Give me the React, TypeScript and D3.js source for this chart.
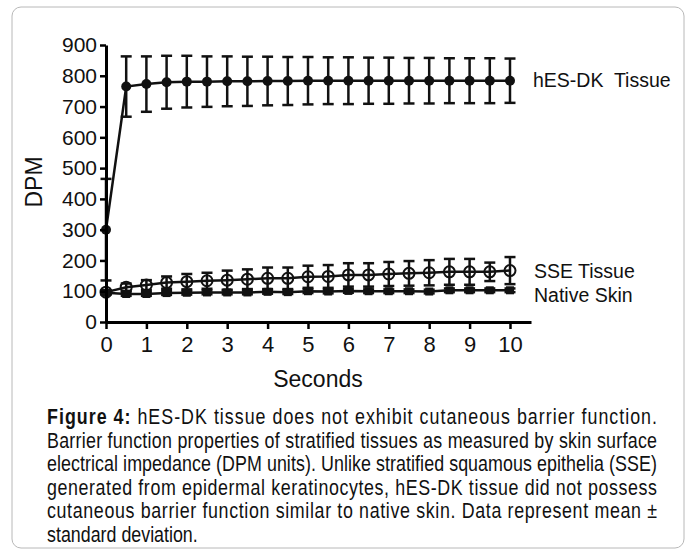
import React, {useEffect, useRef} from "react";
import * as d3 from "d3";

// time points, seconds
const seconds = [0, 0.5, 1, 1.5, 2, 2.5, 3, 3.5, 4, 4.5, 5, 5.5, 6, 6.5, 7, 7.5, 8, 8.5, 9, 9.5, 10];

const hesMean = [300, 765, 773, 779, 781, 781, 782, 782, 783, 783, 784, 784, 784, 784, 784, 784, 784, 784, 784, 784, 784];
const hesSd = [165, 98, 90, 86, 84, 82, 81, 80, 79, 78, 77, 76, 76, 75, 75, 74, 74, 73, 73, 73, 72];

const sseMean = [97, 113, 120, 128, 131, 134, 136, 139, 142, 142, 147, 148, 153, 153, 156, 158, 160, 163, 163, 163, 167];
const sseSd = [4, 12, 16, 20, 25, 26, 31, 32, 35, 35, 36, 37, 38, 38, 39, 40, 41, 42, 42, 30, 44];

const nativeMean = [95, 91, 91, 94, 95, 96, 96, 96, 98, 97, 100, 99, 101, 100, 100, 100, 99, 103, 103, 103, 103];
const nativeSd = [6, 6, 6, 6, 6, 6, 6, 6, 6, 6, 6, 6, 6, 6, 6, 6, 6, 6, 6, 6, 6];

const xTicks = [0, 1, 2, 3, 4, 5, 6, 7, 8, 9, 10];
const yTicks = [0, 100, 200, 300, 400, 500, 600, 700, 800, 900];

const captionLines = [
    "hES-DK tissue does not exhibit cutaneous barrier function.",
    "Barrier function properties of stratified tissues as measured by skin surface",
    "electrical impedance (DPM units). Unlike stratified squamous epithelia (SSE)",
    "generated from epidermal keratinocytes, hES-DK tissue did not possess",
    "cutaneous barrier function similar to native skin. Data represent mean ±",
    "standard deviation."
];

const FONT = "'Liberation Sans', Arial, Helvetica, sans-serif";
// no narrow face installed, so squeeze the regular one
const NARROW_SCALE = 0.83;

const x = d3.scaleLinear().domain([0, 10.52]).range([106, 531]);
const y = d3.scaleLinear().domain([0, 900]).range([322, 45]);

const App = () => {
    const xAxisRef = useRef<SVGGElement>(null);
    const yAxisRef = useRef<SVGGElement>(null);

    useEffect(() => {
        const xg = d3.select(xAxisRef.current);
        xg.call(d3.axisBottom(x).tickValues(xTicks).tickSize(7).tickSizeOuter(0).tickPadding(7).tickFormat(d3.format("d")) as any);
        xg.select(".domain").attr("stroke-width", 3);
        xg.selectAll(".tick line").attr("stroke-width", 2.5);
        xg.selectAll(".tick text").attr("font-size", 22).attr("font-family", FONT).attr("fill", "#111");

        const yg = d3.select(yAxisRef.current);
        yg.call(d3.axisLeft(y).tickValues(yTicks).tickSize(6).tickSizeOuter(0).tickPadding(3).tickFormat(d3.format("d")) as any);
        yg.select(".domain").attr("stroke-width", 3);
        yg.selectAll(".tick line").attr("stroke-width", 2.5);
        yg.selectAll(".tick text").attr("font-size", 21).attr("font-family", FONT).attr("fill", "#111");
    });

    const line = (vals: number[]) =>
        d3.line<number>().x((_, i) => x(seconds[i])).y(d => y(d))(vals) || "";

    const errorBars = (mean: number[], sd: number[], key: string) =>
        mean.map((m, i) => {
            const cx = x(seconds[i]);
            const top = y(m + sd[i]);
            const bot = y(m - sd[i]);
            return (
                <g key={key + i} stroke="#111" strokeWidth={2.5}>
                    <line x1={cx} x2={cx} y1={top} y2={bot}/>
                    <line x1={cx - 5.5} x2={cx + 5.5} y1={top} y2={top}/>
                    <line x1={cx - 5.5} x2={cx + 5.5} y1={bot} y2={bot}/>
                </g>
            );
        });

    return (
        <svg width={694} height={552} style={{position: "absolute", left: 0, top: 0}}>
            <rect x={0} y={0} width={694} height={552} fill="#fff"/>
            <rect x={12} y={7} width={672} height={541} rx={9} fill="none" stroke="#b8b8b8" strokeWidth={1}/>

            {errorBars(nativeMean, nativeSd, "n")}
            {errorBars(sseMean, sseSd, "s")}
            {errorBars(hesMean, hesSd, "h")}

            <path d={line(nativeMean)} fill="none" stroke="#111" strokeWidth={2.5}/>
            <path d={line(sseMean)} fill="none" stroke="#111" strokeWidth={2.5}/>
            <path d={line(hesMean)} fill="none" stroke="#111" strokeWidth={2.5}/>

            {nativeMean.map((m, i) => (
                <rect key={"nm" + i} x={x(seconds[i]) - 4} y={y(m) - 4} width={8} height={8} fill="#111"/>
            ))}
            {sseMean.map((m, i) => (
                <circle key={"sm" + i} cx={x(seconds[i])} cy={y(m)} r={5.5} fill="none" stroke="#111" strokeWidth={2}/>
            ))}
            {hesMean.map((m, i) => (
                <circle key={"hm" + i} cx={x(seconds[i])} cy={y(m)} r={5} fill="#111"/>
            ))}

            <g ref={xAxisRef} transform={`translate(0, ${y(0)})`}/>
            <g ref={yAxisRef} transform={`translate(${x(0)}, 0)`}/>

            <text x={318} y={387} textAnchor="middle" fontFamily={FONT} fontSize={23} fill="#111">Seconds</text>
            <text transform="translate(42, 182) rotate(-90)" textAnchor="middle" fontFamily={FONT} fontSize={23} fill="#111">DPM</text>

            <text x={533} y={87} fontFamily={FONT} fontSize={19.5} fill="#111" style={{whiteSpace: "pre"}}>hES-DK  Tissue</text>
            <text x={534} y={278} fontFamily={FONT} fontSize={19.5} fill="#111">SSE Tissue</text>
            <text x={534} y={302} fontFamily={FONT} fontSize={19.5} fill="#111">Native Skin</text>

            {captionLines.map((t, i) => {
                const last = i === captionLines.length - 1;
                return (
                    <text key={"c" + i} transform={`translate(47, ${424 + i * 23.6}) scale(${NARROW_SCALE}, 1)`}
                          fontFamily={FONT} fontSize={21.5} fill="#111"
                          textLength={last ? undefined : 610 / NARROW_SCALE} lengthAdjust="spacing">
                        {i === 0 ? <tspan fontWeight="bold">{"Figure 4: "}</tspan> : null}
                        {t}
                    </text>
                );
            })}
        </svg>
    );
};

export default App;
